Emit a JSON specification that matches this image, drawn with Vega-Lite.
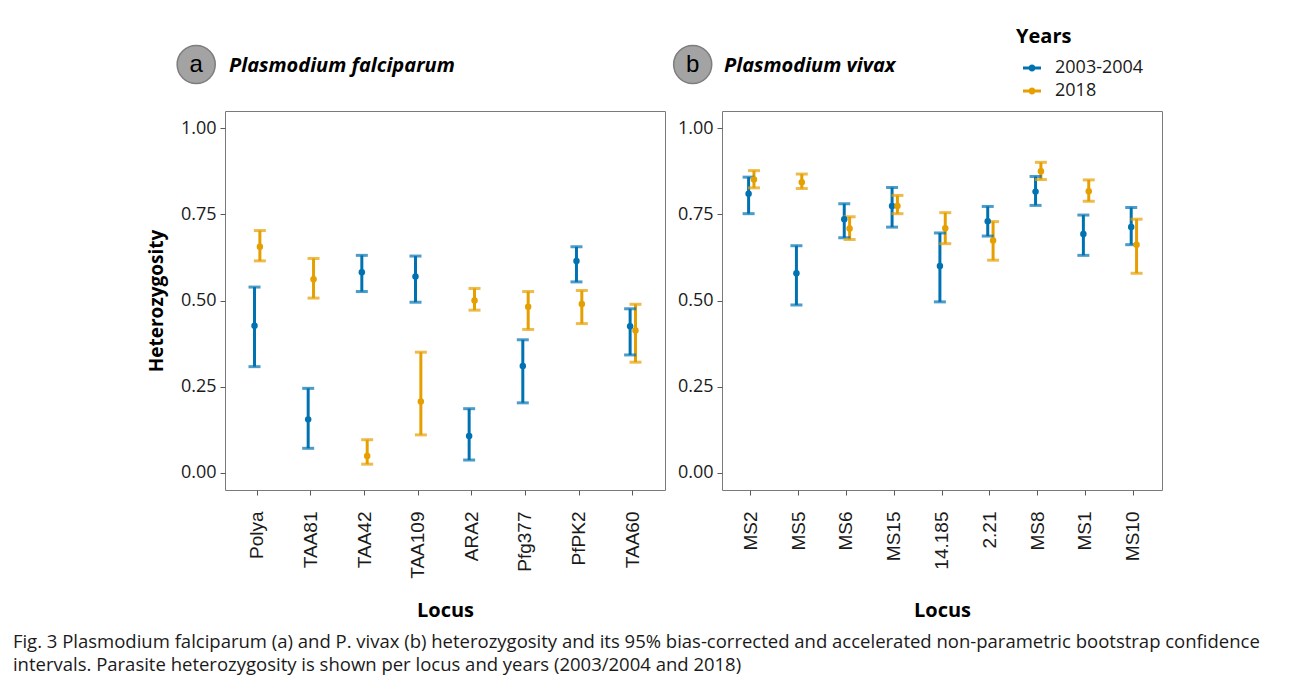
{
  "$schema": "https://vega.github.io/schema/vega-lite/v6.json",
  "background": "white",
  "padding": {"left": 12, "top": 27, "right": 5, "bottom": 5},
  "autosize": {"type": "pad"},
  "datasets": {
    "het": [
      {"panel": "a", "locus": "Polya", "year": "2003-2004", "h": 0.427, "lo": 0.308, "hi": 0.539},
      {"panel": "a", "locus": "Polya", "year": "2018", "h": 0.656, "lo": 0.615, "hi": 0.703},
      {"panel": "a", "locus": "TAA81", "year": "2003-2004", "h": 0.155, "lo": 0.071, "hi": 0.245},
      {"panel": "a", "locus": "TAA81", "year": "2018", "h": 0.562, "lo": 0.507, "hi": 0.622},
      {"panel": "a", "locus": "TAA42", "year": "2003-2004", "h": 0.582, "lo": 0.526, "hi": 0.631},
      {"panel": "a", "locus": "TAA42", "year": "2018", "h": 0.049, "lo": 0.025, "hi": 0.096},
      {"panel": "a", "locus": "TAA109", "year": "2003-2004", "h": 0.570, "lo": 0.495, "hi": 0.629},
      {"panel": "a", "locus": "TAA109", "year": "2018", "h": 0.207, "lo": 0.110, "hi": 0.350},
      {"panel": "a", "locus": "ARA2", "year": "2003-2004", "h": 0.107, "lo": 0.037, "hi": 0.186},
      {"panel": "a", "locus": "ARA2", "year": "2018", "h": 0.500, "lo": 0.472, "hi": 0.535},
      {"panel": "a", "locus": "Pfg377", "year": "2003-2004", "h": 0.310, "lo": 0.203, "hi": 0.386},
      {"panel": "a", "locus": "Pfg377", "year": "2018", "h": 0.482, "lo": 0.416, "hi": 0.526},
      {"panel": "a", "locus": "PfPK2", "year": "2003-2004", "h": 0.615, "lo": 0.554, "hi": 0.656},
      {"panel": "a", "locus": "PfPK2", "year": "2018", "h": 0.490, "lo": 0.433, "hi": 0.529},
      {"panel": "a", "locus": "TAA60", "year": "2003-2004", "h": 0.425, "lo": 0.342, "hi": 0.476},
      {"panel": "a", "locus": "TAA60", "year": "2018", "h": 0.413, "lo": 0.321, "hi": 0.489},
      {"panel": "b", "locus": "MS2", "year": "2003-2004", "h": 0.810, "lo": 0.752, "hi": 0.858},
      {"panel": "b", "locus": "MS2", "year": "2018", "h": 0.851, "lo": 0.827, "hi": 0.877},
      {"panel": "b", "locus": "MS5", "year": "2003-2004", "h": 0.579, "lo": 0.487, "hi": 0.659},
      {"panel": "b", "locus": "MS5", "year": "2018", "h": 0.843, "lo": 0.825, "hi": 0.867},
      {"panel": "b", "locus": "MS6", "year": "2003-2004", "h": 0.736, "lo": 0.682, "hi": 0.781},
      {"panel": "b", "locus": "MS6", "year": "2018", "h": 0.709, "lo": 0.677, "hi": 0.743},
      {"panel": "b", "locus": "MS15", "year": "2003-2004", "h": 0.774, "lo": 0.713, "hi": 0.828},
      {"panel": "b", "locus": "MS15", "year": "2018", "h": 0.774, "lo": 0.752, "hi": 0.805},
      {"panel": "b", "locus": "14.185", "year": "2003-2004", "h": 0.600, "lo": 0.496, "hi": 0.696},
      {"panel": "b", "locus": "14.185", "year": "2018", "h": 0.710, "lo": 0.665, "hi": 0.755},
      {"panel": "b", "locus": "2.21", "year": "2003-2004", "h": 0.730, "lo": 0.687, "hi": 0.773},
      {"panel": "b", "locus": "2.21", "year": "2018", "h": 0.674, "lo": 0.617, "hi": 0.729},
      {"panel": "b", "locus": "MS8", "year": "2003-2004", "h": 0.816, "lo": 0.776, "hi": 0.860},
      {"panel": "b", "locus": "MS8", "year": "2018", "h": 0.875, "lo": 0.851, "hi": 0.901},
      {"panel": "b", "locus": "MS1", "year": "2003-2004", "h": 0.693, "lo": 0.631, "hi": 0.748},
      {"panel": "b", "locus": "MS1", "year": "2018", "h": 0.817, "lo": 0.788, "hi": 0.850},
      {"panel": "b", "locus": "MS10", "year": "2003-2004", "h": 0.713, "lo": 0.662, "hi": 0.770},
      {"panel": "b", "locus": "MS10", "year": "2018", "h": 0.662, "lo": 0.579, "hi": 0.736}
    ],
    "labA": [{"lab": "a"}],
    "labB": [{"lab": "b"}]
  },
  "config": {
    "view": {"stroke": "#7a7a7a", "strokeWidth": 1},
    "axis": {
      "grid": false,
      "domain": false,
      "tickColor": "#5a5a5a",
      "tickSize": 5,
      "labelColor": "#1a1a1a",
      "titleColor": "#000000",
      "titleFont": "Open Sans",
      "titleFontWeight": "bold",
      "titleFontSize": 20
    },
    "legend": {
      "orient": "none",
      "legendX": 791,
      "legendY": -84,
      "titleFont": "Open Sans",
      "titleFontWeight": "bold",
      "titleFontSize": 20,
      "titleColor": "#000000",
      "titlePadding": 12,
      "labelFont": "Open Sans",
      "labelFontSize": 18,
      "labelColor": "#1a1a1a",
      "labelOffset": 14,
      "symbolOffset": 7,
      "symbolSize": 324,
      "symbolStrokeWidth": 0,
      "symbolType": "M-1,-0.17 L1,-0.17 L1,0.17 L-1,0.17 Z M0.39,0 A0.39,0.39 0 1,1 -0.39,0 A0.39,0.39 0 1,1 0.39,0 Z",
      "rowPadding": 5
    }
  },
  "title": {
    "text": [
      "Fig. 3  Plasmodium falciparum (a) and P. vivax (b) heterozygosity and its 95% bias-corrected and accelerated non-parametric bootstrap confidence",
      "intervals. Parasite heterozygosity is shown per locus and years (2003/2004 and 2018)"
    ],
    "orient": "bottom",
    "anchor": "start",
    "frame": "bounds",
    "dx": -134,
    "offset": 12,
    "font": "Open Sans",
    "fontSize": 18.5,
    "fontWeight": "normal",
    "color": "#1a1a1a",
    "lineHeight": 23
  },
  "spacing": 4,
  "resolve": {"scale": {"color": "shared"}},
  "hconcat": [
    {
      "width": 440,
      "height": 379,
      "title": {"text": "Plasmodium falciparum", "anchor": "start", "frame": "group", "font": "Open Sans", "fontStyle": "italic", "fontWeight": "bold", "fontSize": 20, "offset": -34, "dx": 4, "color": "#000000"},
      "layer": [
        {
          "data": {"name": "het"},
          "transform": [{"filter": "datum.panel === 'a'"}],
          "encoding": {
            "x": {"field": "locus", "type": "nominal", "scale": {"domain": ["Polya", "TAA81", "TAA42", "TAA109", "ARA2", "Pfg377", "PfPK2", "TAA60"], "paddingInner": 0.8, "paddingOuter": 0.5},
              "axis": {"title": "Locus", "labelAngle": -90, "labelAlign": "right", "labelBaseline": "middle", "labelPadding": 16, "labelFont": "Liberation Sans", "labelFontSize": 19, "titleY": 126, "titleBaseline": "alphabetic"}},
            "xOffset": {"field": "year", "type": "nominal", "scale": {"domain": ["2003-2004", "2018"], "paddingInner": 0, "paddingOuter": 0}},
            "color": {"field": "year", "type": "nominal", "title": "Years", "scale": {"domain": ["2003-2004", "2018"], "range": ["#0072B2", "#E69F00"]},
              "legend": {"encode": {"symbols": {"update": {"fill": {"scale": "color", "field": "value"}, "stroke": {"value": "transparent"}}}}}}
          },
          "layer": [
            {"mark": {"type": "rule", "strokeWidth": 3},
             "encoding": {"y": {"field": "lo", "type": "quantitative", "scale": {"domain": [-0.05, 1.05], "nice": false, "zero": false},
                "axis": {"title": "Heterozygosity", "values": [0, 0.25, 0.5, 0.75, 1], "format": ".2f", "labelFont": "Open Sans", "labelFontSize": 18, "labelPadding": 4, "titlePadding": 14, "titleFontSize": 19}},
               "y2": {"field": "hi"}}},
            {"mark": {"type": "tick", "thickness": 3, "size": 12}, "encoding": {"y": {"field": "lo", "type": "quantitative"}}},
            {"mark": {"type": "tick", "thickness": 3, "size": 12}, "encoding": {"y": {"field": "hi", "type": "quantitative"}}},
            {"mark": {"type": "point", "filled": true, "size": 42, "opacity": 1}, "encoding": {"y": {"field": "h", "type": "quantitative"}}}
          ]
        },
        {
          "data": {"name": "labA"},
          "mark": {"type": "point", "shape": "circle", "filled": true, "size": 1450, "fill": "#a3a3a3", "stroke": "#7d7d7d", "strokeWidth": 1.5, "opacity": 1, "xOffset": -61},
          "encoding": {"x": {"datum": "Polya", "type": "nominal"}, "y": {"datum": 1.185, "type": "quantitative"}}
        },
        {
          "data": {"name": "labA"},
          "mark": {"type": "text", "font": "Liberation Sans", "fontSize": 24, "color": "#000000", "align": "center", "baseline": "middle", "dx": -61, "dy": 1},
          "encoding": {"x": {"datum": "Polya", "type": "nominal"}, "y": {"datum": 1.185, "type": "quantitative"}, "text": {"field": "lab"}}
        }
      ]
    },
    {
      "width": 440,
      "height": 379,
      "title": {"text": "Plasmodium vivax", "anchor": "start", "frame": "group", "font": "Open Sans", "fontStyle": "italic", "fontWeight": "bold", "fontSize": 20, "offset": -34, "dx": 2, "color": "#000000"},
      "layer": [
        {
          "data": {"name": "het"},
          "transform": [{"filter": "datum.panel === 'b'"}],
          "encoding": {
            "x": {"field": "locus", "type": "nominal", "scale": {"domain": ["MS2", "MS5", "MS6", "MS15", "14.185", "2.21", "MS8", "MS1", "MS10"], "paddingInner": 0.8, "paddingOuter": 0.5},
              "axis": {"title": "Locus", "labelAngle": -90, "labelAlign": "right", "labelBaseline": "middle", "labelPadding": 16, "labelFont": "Liberation Sans", "labelFontSize": 19, "titleY": 126, "titleBaseline": "alphabetic"}},
            "xOffset": {"field": "year", "type": "nominal", "scale": {"domain": ["2003-2004", "2018"], "paddingInner": 0, "paddingOuter": 0}},
            "color": {"field": "year", "type": "nominal", "title": "Years", "scale": {"domain": ["2003-2004", "2018"], "range": ["#0072B2", "#E69F00"]},
              "legend": {"encode": {"symbols": {"update": {"fill": {"scale": "color", "field": "value"}, "stroke": {"value": "transparent"}}}}}}
          },
          "layer": [
            {"mark": {"type": "rule", "strokeWidth": 3},
             "encoding": {"y": {"field": "lo", "type": "quantitative", "scale": {"domain": [-0.05, 1.05], "nice": false, "zero": false},
                "axis": {"title": null, "values": [0, 0.25, 0.5, 0.75, 1], "format": ".2f", "labelFont": "Open Sans", "labelFontSize": 18, "labelPadding": 4}},
               "y2": {"field": "hi"}}},
            {"mark": {"type": "tick", "thickness": 3, "size": 12}, "encoding": {"y": {"field": "lo", "type": "quantitative"}}},
            {"mark": {"type": "tick", "thickness": 3, "size": 12}, "encoding": {"y": {"field": "hi", "type": "quantitative"}}},
            {"mark": {"type": "point", "filled": true, "size": 42, "opacity": 1}, "encoding": {"y": {"field": "h", "type": "quantitative"}}}
          ]
        },
        {
          "data": {"name": "labB"},
          "mark": {"type": "point", "shape": "circle", "filled": true, "size": 1450, "fill": "#a3a3a3", "stroke": "#7d7d7d", "strokeWidth": 1.5, "opacity": 1, "xOffset": -58},
          "encoding": {"x": {"datum": "MS2", "type": "nominal"}, "y": {"datum": 1.185, "type": "quantitative"}}
        },
        {
          "data": {"name": "labB"},
          "mark": {"type": "text", "font": "Liberation Sans", "fontSize": 24, "color": "#000000", "align": "center", "baseline": "middle", "dx": -58, "dy": 1},
          "encoding": {"x": {"datum": "MS2", "type": "nominal"}, "y": {"datum": 1.185, "type": "quantitative"}, "text": {"field": "lab"}}
        }
      ]
    }
  ]
}
